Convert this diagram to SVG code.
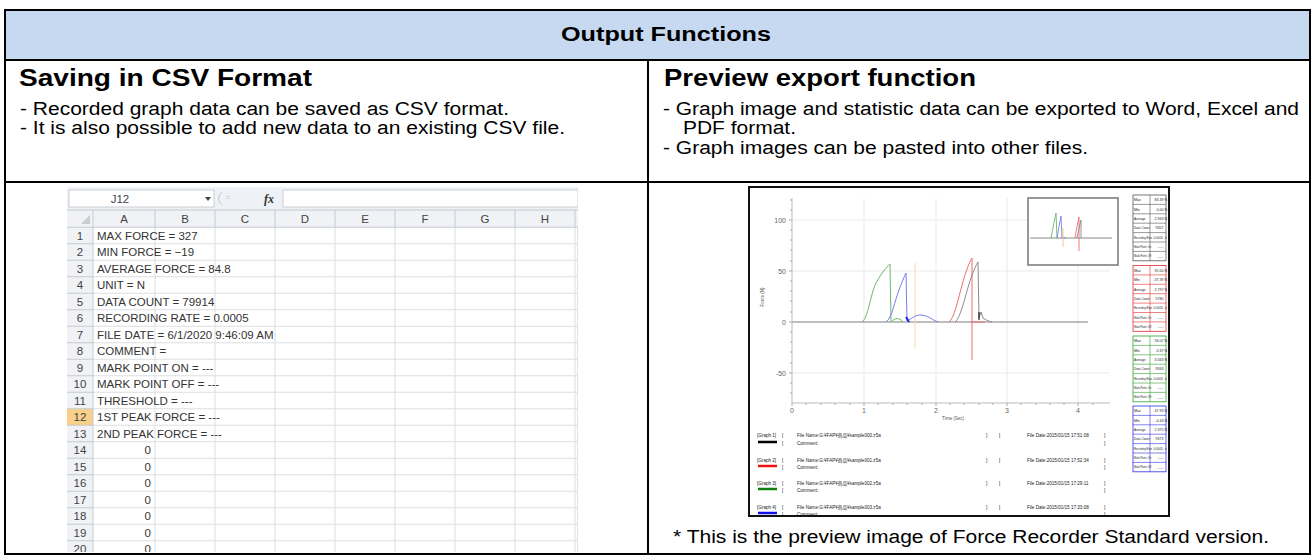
<svg xmlns="http://www.w3.org/2000/svg" width="1312" height="558" viewBox="0 0 1312 558">
<style>
text{font-family:"Liberation Sans",Arial,"Noto Sans CJK JP",sans-serif;fill:#000}
.title{font-size:20px;font-weight:bold}
.h{font-size:23px;font-weight:bold}
.b{font-size:18px}
.ln{stroke:#000;stroke-width:2;fill:none}
.xs{font-size:11.5px;fill:#333}
.num{font-size:11.5px;fill:#333;text-anchor:end}
.cl{font-size:11.5px;fill:#444;text-anchor:middle}
.grid{stroke:#DCDEE1;stroke-width:1;fill:none}
.hdrbg{fill:#F0F2F5}
.hdrln{stroke:#C6CAD0;stroke-width:1;fill:none}
.axe{font-size:7px;fill:#666;text-anchor:end}
.axm{font-size:7px;fill:#666;text-anchor:middle}
.pg{stroke:#EBEBEB;stroke-width:1;fill:none}
.t4{font-size:3.6px;fill:#222}
.t4e{font-size:3.6px;fill:#222;text-anchor:end}
.t3e{font-size:3.1px;fill:#222;text-anchor:end}
.t2{font-size:2.6px;fill:#222}
.t3{font-size:3.1px;fill:#222}
.lg{font-size:4.6px;fill:#222}
</style>
<defs>
<clipPath id="clipSheet"><rect x="67" y="187" width="511" height="365"/></clipPath>
<clipPath id="clipPrev"><rect x="750" y="188" width="418" height="327"/></clipPath>
</defs>

<g id="header">
<rect x="5" y="10" width="1305" height="50" fill="#C6D9F1"/>
<text class="title" x="561" y="40.5" textLength="210" lengthAdjust="spacingAndGlyphs">Output Functions</text>
</g>

<g id="csv-panel">
<text class="h" x="19" y="85.5" textLength="293" lengthAdjust="spacingAndGlyphs">Saving in CSV Format</text>
<text class="b" x="20" y="114.5" textLength="489" lengthAdjust="spacingAndGlyphs">- Recorded graph data can be saved as CSV format.</text>
<text class="b" x="20" y="134" textLength="545" lengthAdjust="spacingAndGlyphs">- It is also possible to add new data to an existing CSV file.</text>
</g>

<g id="preview-panel">
<text class="h" x="664" y="85.5" textLength="312" lengthAdjust="spacingAndGlyphs">Preview export function</text>
<text class="b" x="663" y="114.5" textLength="636" lengthAdjust="spacingAndGlyphs">- Graph image and statistic data can be exported to Word, Excel and</text>
<text class="b" x="683" y="134" textLength="113" lengthAdjust="spacingAndGlyphs">PDF format.</text>
<text class="b" x="663" y="153.5" textLength="425" lengthAdjust="spacingAndGlyphs">- Graph images can be pasted into other files.</text>
<text class="b" x="673" y="543" textLength="596" lengthAdjust="spacingAndGlyphs">* This is the preview image of Force Recorder Standard version.</text>
</g>

<g id="spreadsheet" clip-path="url(#clipSheet)">
<rect x="67" y="187" width="511" height="367" fill="#fff" stroke="#C0C3C8"/>
<rect x="67" y="187" width="511" height="23" fill="#EEF1F5"/>
<rect x="69" y="190" width="145" height="17" fill="#fff" stroke="#C9CDD3"/>
<text class="cl" x="120" y="202.5">J12</text>
<polygon points="205,197 211,197 208,201" fill="#444"/>
<path d="M222 192 Q215 198.5 222 205" stroke="#C4C4C4" stroke-width="1" fill="none"/>
<text x="226" y="200" style="font-size:7px;fill:#C8C8C8">=</text>
<text x="264" y="202.5" style="font-family:'Liberation Serif',serif;font-style:italic;font-weight:bold;font-size:12px;fill:#333">fx</text>
<rect x="283" y="190" width="295" height="17" fill="#fff" stroke="#C9CDD3"/>
<rect class="hdrbg" x="67" y="210" width="511" height="17.25"/>
<rect class="hdrbg" x="67" y="227.25" width="26" height="330"/>
<rect x="67" y="408.75" width="26" height="16.5" fill="#F8D089"/>
<polygon points="90,215 90,224 81,224" fill="#C9CCD0"/>
<g id="gridlines">
<path class="grid" d="M93 243.75H578M93 260.25H578M93 276.75H578M93 293.25H578M93 309.75H578M93 326.25H578M93 342.75H578M93 359.25H578M93 375.75H578M93 392.25H578M93 408.75H578M93 425.25H578M93 441.75H578M93 458.25H578M93 474.75H578M93 491.25H578M93 507.75H578M93 524.25H578M93 540.75H578"/>
<path class="grid" d="M155 227V560M215 227V560M275 227V560M335 227V560M395 227V560M455 227V560M515 227V560M575 227V560"/>
<path class="hdrln" d="M67 210H578M67 227.25H578M93 210V560M155 210V227M215 210V227M275 210V227M335 210V227M395 210V227M455 210V227M515 210V227M575 210V227"/>
<path class="hdrln" d="M67 243.75H93M67 260.25H93M67 276.75H93M67 293.25H93M67 309.75H93M67 326.25H93M67 342.75H93M67 359.25H93M67 375.75H93M67 392.25H93M67 408.75H93M67 425.25H93M67 441.75H93M67 458.25H93M67 474.75H93M67 491.25H93M67 507.75H93M67 524.25H93M67 540.75H93"/>
</g>
<g id="col-headers">
<text class="cl" x="124" y="222.8">A</text>
<text class="cl" x="185" y="222.8">B</text>
<text class="cl" x="245" y="222.8">C</text>
<text class="cl" x="305" y="222.8">D</text>
<text class="cl" x="365" y="222.8">E</text>
<text class="cl" x="425" y="222.8">F</text>
<text class="cl" x="485" y="222.8">G</text>
<text class="cl" x="545" y="222.8">H</text>
</g>
<g id="row-numbers">
<text class="cl" x="80" y="239.5">1</text>
<text class="cl" x="80" y="256">2</text>
<text class="cl" x="80" y="272.5">3</text>
<text class="cl" x="80" y="289">4</text>
<text class="cl" x="80" y="305.5">5</text>
<text class="cl" x="80" y="322">6</text>
<text class="cl" x="80" y="338.5">7</text>
<text class="cl" x="80" y="355">8</text>
<text class="cl" x="80" y="371.5">9</text>
<text class="cl" x="80" y="388">10</text>
<text class="cl" x="80" y="404.5">11</text>
<text class="cl" x="80" y="421">12</text>
<text class="cl" x="80" y="437.5">13</text>
<text class="cl" x="80" y="454">14</text>
<text class="cl" x="80" y="470.5">15</text>
<text class="cl" x="80" y="487">16</text>
<text class="cl" x="80" y="503.5">17</text>
<text class="cl" x="80" y="520">18</text>
<text class="cl" x="80" y="536.5">19</text>
<text class="cl" x="80" y="553">20</text>
</g>
<g id="cells">
<text class="xs" x="97" y="239.5">MAX FORCE = 327</text>
<text class="xs" x="97" y="256">MIN FORCE = −19</text>
<text class="xs" x="97" y="272.5">AVERAGE FORCE = 84.8</text>
<text class="xs" x="97" y="289">UNIT = N</text>
<text class="xs" x="97" y="305.5">DATA COUNT = 79914</text>
<text class="xs" x="97" y="322">RECORDING RATE = 0.0005</text>
<text class="xs" x="97" y="338.5">FILE DATE = 6/1/2020 9:46:09 AM</text>
<text class="xs" x="97" y="355">COMMENT =</text>
<text class="xs" x="97" y="371.5">MARK POINT ON = ---</text>
<text class="xs" x="97" y="388">MARK POINT OFF = ---</text>
<text class="xs" x="97" y="404.5">THRESHOLD = ---</text>
<text class="xs" x="97" y="421">1ST PEAK FORCE = ---</text>
<text class="xs" x="97" y="437.5">2ND PEAK FORCE = ---</text>
<text class="num" x="151" y="454">0</text>
<text class="num" x="151" y="470.5">0</text>
<text class="num" x="151" y="487">0</text>
<text class="num" x="151" y="503.5">0</text>
<text class="num" x="151" y="520">0</text>
<text class="num" x="151" y="536.5">0</text>
<text class="num" x="151" y="553">0</text>
</g>
</g>

<g id="preview-image">
<rect x="749" y="187" width="420" height="329" fill="#fff" stroke="#111" stroke-width="2"/>
<g clip-path="url(#clipPrev)">
<g id="chart">
<path class="pg" d="M864 198V403M936 198V403M1007 198V403M1078 198V403M792 220H1110M792 271H1110M792 373H1110"/>
<path d="M792 198V403H1110" stroke="#BBB" stroke-width="1" fill="none"/>
<path d="M789 220H792M789 271H792M789 322H792M789 373H792M790 230H792M790 240H792M790 250H792M790 261H792M790 281H792M790 291H792M790 301H792M790 312H792M790 332H792M790 342H792M790 352H792M790 363H792M790 383H792M790 393H792M790 210H792M790 200H792M792 406V403M864 406V403M936 406V403M1007 406V403M1078 406V403M806 405V403M821 405V403M835 405V403M850 405V403M878 405V403M893 405V403M907 405V403M922 405V403M950 405V403M964 405V403M979 405V403M993 405V403M1021 405V403M1036 405V403M1050 405V403M1064 405V403M1093 405V403" stroke="#999" stroke-width="0.8" fill="none"/>
<text class="axe" x="786" y="222.5">100</text>
<text class="axe" x="786" y="273.5">50</text>
<text class="axe" x="786" y="324.5">0</text>
<text class="axe" x="786" y="375.5">-50</text>
<text class="axm" x="792" y="413">0</text>
<text class="axm" x="864" y="413">1</text>
<text class="axm" x="936" y="413">2</text>
<text class="axm" x="1007" y="413">3</text>
<text class="axm" x="1078" y="413">4</text>
<text x="953" y="419.5" style="font-size:4.5px;fill:#555;text-anchor:middle">Time (Sec)</text>
<text transform="translate(764 297) rotate(-90)" style="font-size:4.5px;fill:#555;text-anchor:middle">Force (N)</text>
<path d="M792 322H1088" stroke="#A8A8A8" stroke-width="1.5" fill="none"/>
<path d="M915 263V348" stroke="#F3DCA8" stroke-width="1" fill="none"/>
<path d="M862 322C868 318 870 296 876 283C882 272 886 268 890 264L891 322C895 318 899 317 903 322" stroke="#6CB86C" stroke-width="1" fill="none"/>
<path d="M886 322C892 318 895 300 899 290C902 282 904 277 906 273L907 321C912 318 916 315 920 315C928 315 932 320 938 322" stroke="#7A7AF2" stroke-width="1" fill="none"/>
<path d="M906 317L909 322" stroke="#2020E0" stroke-width="2" fill="none"/>
<path d="M949 322C955 318 960 290 965 275C968 266 970 261 972 258L972 360M972 322L985 322" stroke="#F26A6A" stroke-width="1" fill="none"/>
<path d="M955 322C961 318 966 292 971 278C974 270 976 265 978 262L979 318L981 312L983 318C986 320 988 321 992 322" stroke="#8A8A8A" stroke-width="1" fill="none"/>
<path d="M979 312V320" stroke="#222" stroke-width="1.2" fill="none"/>
</g>
<g id="inset">
<rect x="1028" y="198" width="90" height="67" fill="#fff" stroke="#777" stroke-width="1.5"/>
<path d="M1030 238H1112" stroke="#888" stroke-width="1" fill="none"/>
<path d="M1051 238Q1054 222 1056 213L1057 238" stroke="#6CB86C" stroke-width="0.9" fill="none"/>
<path d="M1057 238Q1059 226 1061 216L1062 238L1066 238" stroke="#7A7AF2" stroke-width="0.9" fill="none"/>
<path d="M1063 228V247" stroke="#F5C880" stroke-width="1" fill="none"/>
<path d="M1075 238Q1077 225 1079 217L1079 251" stroke="#F26A6A" stroke-width="0.9" fill="none"/>
<path d="M1077 238Q1079 228 1081 220L1081 238" stroke="#8A8A8A" stroke-width="0.9" fill="none"/>
</g>
<g id="stats">
<g stroke-width="0.8" fill="#fff">
<rect x="1133" y="195" width="33" height="65.8" stroke="#555"/>
<rect x="1133" y="265.5" width="33" height="65.8" stroke="#E03030"/>
<rect x="1133" y="336" width="33" height="65.8" stroke="#30A030"/>
<rect x="1133" y="406" width="33" height="65.8" stroke="#3030E0"/>
</g>
<path d="M1133 204.4H1166M1133 213.8H1166M1133 223.2H1166M1133 232.6H1166M1133 242H1166M1133 251.4H1166M1150 195V260.8" stroke="#555" stroke-width="0.6" fill="none"/>
<path d="M1133 274.9H1166M1133 284.3H1166M1133 293.7H1166M1133 303.1H1166M1133 312.5H1166M1133 321.9H1166M1150 265.5V331.3" stroke="#E03030" stroke-width="0.6" fill="none"/>
<path d="M1133 345.4H1166M1133 354.8H1166M1133 364.2H1166M1133 373.6H1166M1133 383H1166M1133 392.4H1166M1150 336V401.8" stroke="#30A030" stroke-width="0.6" fill="none"/>
<path d="M1133 415.4H1166M1133 424.8H1166M1133 434.2H1166M1133 443.6H1166M1133 453H1166M1133 462.4H1166M1150 406V471.8" stroke="#3030E0" stroke-width="0.6" fill="none"/>
<g id="stats-black">
<text class="t4" x="1134" y="201.2">Max</text><text class="t4e" x="1163.5" y="201.2">83.39</text><text class="t4" x="1164.4" y="201.2">N</text>
<text class="t4" x="1134" y="210.6">Min</text><text class="t4e" x="1163.5" y="210.6">0.00</text><text class="t4" x="1164.4" y="210.6">N</text>
<text class="t3" x="1134" y="220">Average</text><text class="t4e" x="1163.5" y="220">2.943</text><text class="t4" x="1164.4" y="220">N</text>
<text class="t3" x="1134" y="229.4">Data Count</text><text class="t4e" x="1163.5" y="229.4">9357</text>
<text class="t2" x="1134" y="238.6">Recording Rate</text><text class="t3e" x="1163" y="238.8">0.0005</text><text class="t4" x="1164.8" y="238.8">s</text>
<text class="t2" x="1134" y="248">Mark.Point, On</text><text class="t4e" x="1163.5" y="248.2">-----</text>
<text class="t2" x="1134" y="257.4">Mark.Point, Off</text><text class="t4e" x="1163.5" y="257.6">-----</text>
</g>
<g id="stats-red">
<text class="t4" x="1134" y="271.7">Max</text><text class="t4e" x="1163.5" y="271.7">92.00</text><text class="t4" x="1164.4" y="271.7">N</text>
<text class="t4" x="1134" y="281.1">Min</text><text class="t4e" x="1163.5" y="281.1">-37.39</text><text class="t4" x="1164.4" y="281.1">N</text>
<text class="t3" x="1134" y="290.5">Average</text><text class="t4e" x="1163.5" y="290.5">2.797</text><text class="t4" x="1164.4" y="290.5">N</text>
<text class="t3" x="1134" y="299.9">Data Count</text><text class="t4e" x="1163.5" y="299.9">5780</text>
<text class="t2" x="1134" y="309.1">Recording Rate</text><text class="t3e" x="1163" y="309.3">0.0005</text><text class="t4" x="1164.8" y="309.3">s</text>
<text class="t2" x="1134" y="318.5">Mark.Point, On</text><text class="t4e" x="1163.5" y="318.7">-----</text>
<text class="t2" x="1134" y="327.9">Mark.Point, Off</text><text class="t4e" x="1163.5" y="328.1">-----</text>
</g>
<g id="stats-green">
<text class="t4" x="1134" y="342.2">Max</text><text class="t4e" x="1163.5" y="342.2">56.07</text><text class="t4" x="1164.4" y="342.2">N</text>
<text class="t4" x="1134" y="351.6">Min</text><text class="t4e" x="1163.5" y="351.6">-3.37</text><text class="t4" x="1164.4" y="351.6">N</text>
<text class="t3" x="1134" y="361">Average</text><text class="t4e" x="1163.5" y="361">3.563</text><text class="t4" x="1164.4" y="361">N</text>
<text class="t3" x="1134" y="370.4">Data Count</text><text class="t4e" x="1163.5" y="370.4">9563</text>
<text class="t2" x="1134" y="379.6">Recording Rate</text><text class="t3e" x="1163" y="379.8">0.0005</text><text class="t4" x="1164.8" y="379.8">s</text>
<text class="t2" x="1134" y="389">Mark.Point, On</text><text class="t4e" x="1163.5" y="389.2">-----</text>
<text class="t2" x="1134" y="398.4">Mark.Point, Off</text><text class="t4e" x="1163.5" y="398.6">-----</text>
</g>
<g id="stats-blue">
<text class="t4" x="1134" y="412.2">Max</text><text class="t4e" x="1163.5" y="412.2">47.93</text><text class="t4" x="1164.4" y="412.2">N</text>
<text class="t4" x="1134" y="421.6">Min</text><text class="t4e" x="1163.5" y="421.6">-0.43</text><text class="t4" x="1164.4" y="421.6">N</text>
<text class="t3" x="1134" y="431">Average</text><text class="t4e" x="1163.5" y="431">2.375</text><text class="t4" x="1164.4" y="431">N</text>
<text class="t3" x="1134" y="440.4">Data Count</text><text class="t4e" x="1163.5" y="440.4">9373</text>
<text class="t2" x="1134" y="449.6">Recording Rate</text><text class="t3e" x="1163" y="449.8">0.0005</text><text class="t4" x="1164.8" y="449.8">s</text>
<text class="t2" x="1134" y="459">Mark.Point, On</text><text class="t4e" x="1163.5" y="459.2">-----</text>
<text class="t2" x="1134" y="468.4">Mark.Point, Off</text><text class="t4e" x="1163.5" y="468.6">-----</text>
</g>
</g>
<g id="legend">
<path d="M758 442H777" stroke="#000" stroke-width="2.5"/>
<path d="M758 466H777" stroke="#F01010" stroke-width="2.5"/>
<path d="M758 489H777" stroke="#108010" stroke-width="2.5"/>
<path d="M758 513H777" stroke="#1010F0" stroke-width="2.5"/>
<text class="lg" x="757" y="436.5">[Graph 1]</text><text class="lg" x="782" y="436.5">[</text><text class="lg" x="797" y="436.5">File Name:G:¥FAP¥商品¥sample000.z5a</text><text class="lg" x="986" y="436.5">]</text><text class="lg" x="999" y="436.5">[</text><text class="lg" x="1027" y="436.5">File Date:2015/01/15 17:51:08</text><text class="lg" x="1104" y="436.5">]</text>
<text class="lg" x="782" y="444.5">[</text><text class="lg" x="797" y="444.5">Comment:</text><text class="lg" x="1104" y="444.5">]</text>
<text class="lg" x="757" y="461.5">[Graph 2]</text><text class="lg" x="782" y="461.5">[</text><text class="lg" x="797" y="461.5">File Name:G:¥FAP¥商品¥sample001.z5a</text><text class="lg" x="986" y="461.5">]</text><text class="lg" x="999" y="461.5">[</text><text class="lg" x="1027" y="461.5">File Date:2015/01/15 17:52:34</text><text class="lg" x="1104" y="461.5">]</text>
<text class="lg" x="782" y="468.5">[</text><text class="lg" x="797" y="468.5">Comment:</text><text class="lg" x="1104" y="468.5">]</text>
<text class="lg" x="757" y="484.5">[Graph 3]</text><text class="lg" x="782" y="484.5">[</text><text class="lg" x="797" y="484.5">File Name:G:¥FAP¥商品¥sample002.z5a</text><text class="lg" x="986" y="484.5">]</text><text class="lg" x="999" y="484.5">[</text><text class="lg" x="1027" y="484.5">File Date:2015/01/15 17:29:11</text><text class="lg" x="1104" y="484.5">]</text>
<text class="lg" x="782" y="491.5">[</text><text class="lg" x="797" y="491.5">Comment:</text><text class="lg" x="1104" y="491.5">]</text>
<text class="lg" x="757" y="508.5">[Graph 4]</text><text class="lg" x="782" y="508.5">[</text><text class="lg" x="797" y="508.5">File Name:G:¥FAP¥商品¥sample003.z5a</text><text class="lg" x="986" y="508.5">]</text><text class="lg" x="999" y="508.5">[</text><text class="lg" x="1027" y="508.5">File Date:2015/01/15 17:33:08</text><text class="lg" x="1104" y="508.5">]</text>
<text class="lg" x="782" y="515.5">[</text><text class="lg" x="797" y="515.5">Comment:</text><text class="lg" x="1104" y="515.5">]</text>
</g>
</g>
</g>

<g id="frame">
<rect class="ln" x="5" y="10" width="1305" height="544"/>
<path class="ln" d="M5 60H1310M5 182H1310M648 60V554"/>
</g>
</svg>
